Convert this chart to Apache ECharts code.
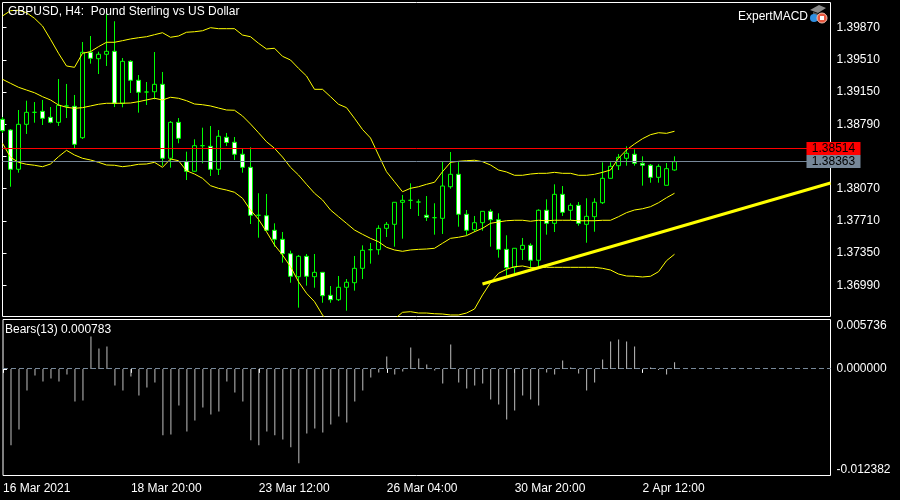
<!DOCTYPE html>
<html>
<head>
<meta charset="utf-8">
<style>html,body{margin:0;padding:0;background:#000}#c{width:900px;height:500px}</style>
<script src="https://cdn.jsdelivr.net/npm/echarts@6/dist/echarts.min.js"></script>
</head>
<body>
<div id="c"></div>
<script>
const opens=[1.38846,1.38726,1.38287,1.38790,1.38924,1.38935,1.38868,1.38812,1.38995,1.38991,1.38640,1.39595,1.39523,1.39573,1.39606,1.39025,1.39494,1.39282,1.39151,1.39154,1.39237,1.38410,1.38812,1.38372,1.38265,1.38551,1.38544,1.38287,1.38645,1.38589,1.38455,1.38309,1.37773,1.37768,1.37605,1.37504,1.37343,1.37086,1.37314,1.37086,1.37135,1.36878,1.36829,1.36968,1.37019,1.37180,1.37388,1.37388,1.37627,1.37672,1.37918,1.37940,1.37921,1.37773,1.37746,1.37739,1.38092,1.38231,1.37784,1.37612,1.37690,1.37817,1.37723,1.37392,1.37191,1.37392,1.37437,1.37270,1.37829,1.37683,1.38007,1.37829,1.37884,1.37672,1.37757,1.37913,1.38186,1.38327,1.38410,1.38455,1.38354,1.38332,1.38197,1.38108,1.38279];
const closes=[1.38718,1.38287,1.38790,1.38924,1.38924,1.38857,1.38812,1.39002,1.38995,1.38566,1.39595,1.39528,1.39573,1.39606,1.39025,1.39494,1.39282,1.39148,1.39151,1.39237,1.38410,1.38812,1.38633,1.38265,1.38551,1.38551,1.38287,1.38656,1.38587,1.38455,1.38309,1.37773,1.37773,1.37605,1.37504,1.37343,1.37091,1.37314,1.37091,1.37135,1.36874,1.36829,1.36968,1.37024,1.37180,1.37381,1.37388,1.37627,1.37672,1.37918,1.37940,1.37940,1.37921,1.37750,1.37746,1.38100,1.38231,1.37784,1.37605,1.37690,1.37817,1.37723,1.37392,1.37187,1.37404,1.37437,1.37270,1.37829,1.37683,1.38007,1.37806,1.37884,1.37683,1.37761,1.37918,1.38186,1.38320,1.38421,1.38466,1.38354,1.38332,1.38197,1.38320,1.38294,1.38372];
const lows=[1.38693,1.38092,1.38249,1.38682,1.38808,1.38782,1.38801,1.38771,1.38860,1.38514,1.38626,1.39468,1.39352,1.39442,1.38983,1.38980,1.39140,1.38920,1.39006,1.39069,1.38327,1.38305,1.38578,1.38167,1.38260,1.38354,1.38212,1.38223,1.38547,1.38391,1.38249,1.37675,1.37522,1.37597,1.37422,1.37243,1.37019,1.36740,1.36986,1.36963,1.36795,1.36795,1.36814,1.36706,1.36930,1.37060,1.37232,1.37332,1.37530,1.37422,1.37511,1.37843,1.37765,1.37709,1.37556,1.37564,1.38070,1.37645,1.37549,1.37586,1.37600,1.37422,1.37299,1.37094,1.37128,1.37273,1.37180,1.37198,1.37556,1.37586,1.37765,1.37720,1.37656,1.37466,1.37589,1.37899,1.38182,1.38279,1.38327,1.38327,1.38104,1.38137,1.38137,1.38108,1.38271];
const highs=[1.38872,1.38737,1.38950,1.39054,1.39039,1.39062,1.38983,1.39296,1.39241,1.39118,1.39710,1.39777,1.39602,1.40020,1.39942,1.39531,1.39506,1.39341,1.39263,1.39598,1.39375,1.38827,1.38860,1.38484,1.38622,1.38752,1.38771,1.38726,1.38693,1.38648,1.38514,1.38533,1.38019,1.38011,1.37683,1.37586,1.37377,1.37329,1.37340,1.37340,1.37135,1.36982,1.37094,1.37060,1.37318,1.37437,1.37463,1.37661,1.37698,1.37921,1.38000,1.38130,1.37951,1.37988,1.37907,1.38372,1.38480,1.38372,1.37832,1.37765,1.37817,1.37840,1.37795,1.37549,1.37407,1.37519,1.37460,1.37840,1.37951,1.38119,1.38100,1.37907,1.37921,1.37963,1.37963,1.38365,1.38365,1.38458,1.38544,1.38510,1.38432,1.38346,1.38343,1.38357,1.38432];
const bandUpper=[1.40001,1.40060,1.40065,1.40038,1.39975,1.39889,1.39740,1.39584,1.39442,1.39427,1.39584,1.39602,1.39658,1.39707,1.39707,1.39725,1.39744,1.39758,1.39769,1.39792,1.39814,1.39763,1.39777,1.39819,1.39825,1.39836,1.39870,1.39859,1.39859,1.39859,1.39788,1.39769,1.39696,1.39632,1.39640,1.39550,1.39509,1.39416,1.39330,1.39181,1.39181,1.39099,1.39014,1.38976,1.38857,1.38732,1.38637,1.38447,1.38260,1.38148,1.38036,1.38074,1.38092,1.38119,1.38142,1.38260,1.38365,1.38376,1.38383,1.38388,1.38372,1.38335,1.38279,1.38257,1.38220,1.38220,1.38234,1.38242,1.38242,1.38253,1.38242,1.38242,1.38220,1.38220,1.38231,1.38253,1.38279,1.38410,1.38503,1.38570,1.38629,1.38674,1.38696,1.38689,1.38712];
const bandMiddle=[1.39293,1.39248,1.39204,1.39173,1.39143,1.39099,1.39062,1.39006,1.38980,1.38969,1.38976,1.38995,1.39014,1.39025,1.39025,1.39025,1.39028,1.39043,1.39062,1.39081,1.39062,1.39092,1.39081,1.39054,1.39017,1.39009,1.38995,1.38972,1.38950,1.38947,1.38883,1.38793,1.38696,1.38595,1.38522,1.38424,1.38309,1.38223,1.38119,1.38019,1.37944,1.37832,1.37757,1.37683,1.37608,1.37560,1.37515,1.37477,1.37415,1.37385,1.37370,1.37385,1.37392,1.37396,1.37404,1.37460,1.37515,1.37527,1.37545,1.37589,1.37627,1.37683,1.37698,1.37712,1.37717,1.37717,1.37706,1.37717,1.37712,1.37717,1.37717,1.37717,1.37712,1.37712,1.37712,1.37717,1.37717,1.37757,1.37802,1.37832,1.37846,1.37869,1.37913,1.37969,1.38019];
const bandLower=[1.38578,1.38421,1.38365,1.38343,1.38332,1.38316,1.38346,1.38428,1.38499,1.38447,1.38410,1.38391,1.38365,1.38335,1.38332,1.38316,1.38327,1.38343,1.38346,1.38365,1.38309,1.38402,1.38383,1.38271,1.38234,1.38186,1.38104,1.38074,1.38055,1.38030,1.37963,1.37832,1.37728,1.37589,1.37441,1.37329,1.37198,1.37030,1.36901,1.36807,1.36658,1.36546,1.36434,1.36378,1.36356,1.36356,1.36378,1.36434,1.36513,1.36613,1.36688,1.36695,1.36680,1.36680,1.36672,1.36669,1.36658,1.36658,1.36680,1.36725,1.36882,1.37019,1.37124,1.37169,1.37198,1.37206,1.37187,1.37187,1.37191,1.37191,1.37191,1.37191,1.37191,1.37191,1.37191,1.37180,1.37161,1.37116,1.37094,1.37091,1.37083,1.37091,1.37142,1.37265,1.37337];
const bears=[null,-0.00888,-0.00703,-0.00251,-0.00077,-0.00147,-0.00112,-0.00147,-0.00066,-0.00378,-0.00367,0.00375,0.00236,0.00259,-0.00193,-0.00251,-0.00089,-0.00309,-0.00216,-0.00158,-0.00772,-0.00761,-0.00425,-0.00726,-0.00599,-0.00448,-0.00529,-0.00494,-0.00147,-0.00274,-0.00378,-0.00830,-0.00888,-0.00726,-0.00772,-0.00819,-0.00911,-0.01097,-0.00749,-0.00691,-0.00738,-0.00645,-0.00552,-0.00622,-0.00378,-0.00251,-0.00100,-0.00042,0.00143,-0.00066,-0.00031,0.00247,0.00120,0.00050,-0.00019,-0.00170,0.00282,-0.00158,-0.00228,-0.00193,-0.00170,-0.00355,-0.00413,-0.00587,-0.00483,-0.00309,-0.00355,-0.00425,-0.00042,-0.00066,0.00097,0.00015,-0.00054,-0.00251,-0.00158,0.00108,0.00317,0.00340,0.00317,0.00259,-0.00012,0.00015,-0.00012,-0.00066,0.000783];
const trendX=[60,103.5];
const trendY=[1.37005,1.38134];
const priceTicks=[1.36990,1.37350,1.37710,1.38070,1.38430,1.38790,1.39150,1.39510,1.39870];
const priceLabels=[1.36990,1.37350,1.37710,1.38070,1.38790,1.39150,1.39510,1.39870];
const timeTicks=[0,16,32,48,64,80];
const timeLabels=['16 Mar 2021','18 Mar 20:00','23 Mar 12:00','26 Mar 04:00','30 Mar 20:00','2 Apr 12:00'];
const bearsTicks=[-0.012382,0,0.005736];
const askPrice=1.38514, bidPrice=1.38363;
// the reference snaps these two lines to whole pixel rows
const askRow=1.38520, bidRow=1.38374, zeroRow=0.000045;

const FONT='"Liberation Sans"';
const white='#ffffff', yellow='#ffff00', green='#00ff00', slate='#778899';
const band=(d)=>({type:'line',xAxisIndex:0,yAxisIndex:0,data:d.map((v,i)=>[i,v]),showSymbol:false,symbol:'none',
  lineStyle:{color:yellow,width:1},itemStyle:{color:yellow},z:3,silent:true});
const tag=(row,v,bg)=>({yAxis:row,lineStyle:{color:bg,width:1,type:'solid'},
  label:{show:true,position:'end',distance:3,formatter:()=>v.toFixed(5),color:'#000',backgroundColor:bg,
    fontFamily:FONT,fontSize:12,width:54,align:'center',padding:[1,0,0,0],lineHeight:12}});

const chart=echarts.init(document.getElementById('c'),null,{renderer:'canvas'});
chart.setOption({
  animation:false,
  backgroundColor:'#000',
  textStyle:{fontFamily:FONT},
  grid:[
    {left:2.5,top:2.5,width:828,height:314,show:true,borderColor:white,borderWidth:1,backgroundColor:'#000',containLabel:false},
    {left:2.5,top:319.5,width:828,height:156,show:true,borderColor:white,borderWidth:1,backgroundColor:'#000',containLabel:false}
  ],
  xAxis:[
    {type:'value',gridIndex:0,min:0,max:103.5,axisLine:{show:false},axisTick:{show:false},axisLabel:{show:false},splitLine:{show:false}},
    {type:'value',gridIndex:1,min:0,max:103.5,axisLine:{show:false},splitLine:{show:false},
      axisTick:{show:true,length:4,lineStyle:{color:white},customValues:timeTicks},
      axisLabel:{color:white,fontSize:12,fontFamily:FONT,margin:7,align:'left',customValues:timeTicks,
        formatter:(v)=>timeLabels[timeTicks.indexOf(v)]}}
  ],
  yAxis:[
    {type:'value',gridIndex:0,position:'right',min:1.366412,max:1.401517,scale:true,axisLine:{show:false},splitLine:{show:false},
      axisTick:{show:true,length:4,lineStyle:{color:white},customValues:priceTicks},
      axisLabel:{color:white,fontSize:12,fontFamily:FONT,margin:6,customValues:priceLabels,formatter:(v)=>v.toFixed(5)}},
    {type:'value',gridIndex:1,position:'right',min:-0.012382,max:0.005736,axisLine:{show:false},splitLine:{show:false},
      axisTick:{show:true,length:4,lineStyle:{color:white},customValues:bearsTicks},
      axisLabel:{color:white,fontSize:12,fontFamily:FONT,margin:6,customValues:bearsTicks,
        verticalAlignMinLabel:'bottom',verticalAlignMaxLabel:'top',formatter:(v)=>v.toFixed(6)}}
  ],
  series:[
    {type:'candlestick',xAxisIndex:0,yAxisIndex:0,barWidth:5,z:2,silent:true,
      encode:{x:0,y:[1,2,3,4]},
      data:opens.map((o,i)=>[i,o,closes[i],lows[i],highs[i]]),
      itemStyle:{color:'#000',color0:'#fff',borderColor:green,borderColor0:green,borderColorDoji:green,borderWidth:1}},
    band(bandUpper),band(bandMiddle),band(bandLower),
    {type:'line',xAxisIndex:0,yAxisIndex:0,data:trendX.map((x,i)=>[x,trendY[i]]),showSymbol:false,symbol:'none',z:5,silent:true,
      lineStyle:{color:yellow,width:3},
      markLine:{silent:true,symbol:'none',z:4,precision:6,data:[tag(bidRow,bidPrice,slate),tag(askRow,askPrice,'#ff0000')]}},
    {type:'bar',xAxisIndex:1,yAxisIndex:1,barWidth:1,silent:true,data:bears.map((v,i)=>[i,v]),itemStyle:{color:'#c0c0c0'},
      markLine:{silent:true,symbol:'none',precision:7,label:{show:false},
        lineStyle:{color:slate,width:1,type:[5,3]},data:[{yAxis:zeroRow}]}}
  ],
  graphic:[
    {type:'text',left:8,top:6,z:20,style:{text:'GBPUSD, H4:  Pound Sterling vs US Dollar',fill:white,font:'12px '+FONT}},
    {type:'text',left:738,top:11,z:20,style:{text:'ExpertMACD',fill:white,font:'12px '+FONT}},
    {type:'text',left:5,top:324,z:20,style:{text:'Bears(13) 0.000783',fill:white,font:'12px '+FONT}},
    {type:'polygon',z:20,shape:{points:[[810,10],[819,5],[826,8],[818,13]]},style:{fill:'#8a8a8a'}},
    {type:'polygon',z:20,shape:{points:[[813,12],[819,14],[819,17],[813,16]]},style:{fill:'#555'}},
    {type:'circle',z:20,shape:{cx:814,cy:18,r:4},style:{fill:'#2f8fe0'}},
    {type:'circle',z:21,shape:{cx:822,cy:18,r:5},style:{fill:'#e9573f',stroke:'#f0c0b0',lineWidth:1}},
    {type:'rect',z:22,shape:{x:820,y:16,width:4,height:4},style:{fill:'#fff'}}
  ]
});
</script>
</body>
</html>
